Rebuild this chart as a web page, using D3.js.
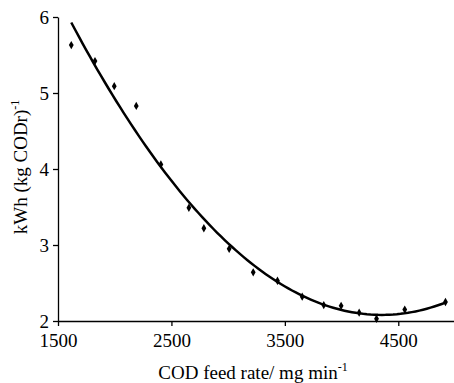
<!DOCTYPE html>
<html><head><meta charset="utf-8"><script src="https://cdn.jsdelivr.net/npm/d3@7"></script></head>
<body style="margin:0">
<svg width="454" height="383"></svg>
<script>
// measured points: COD feed rate (mg/min) vs specific energy kWh (kg CODr)^-1
const feedRate = [1617, 1826, 1996, 2190, 2407, 2654, 2786, 3009, 3221, 3435, 3653, 3843, 3996, 4155, 4308, 4557, 4916];
const energy   = [5.63, 5.42, 5.09, 4.83, 4.06, 3.49, 3.22, 2.95, 2.64, 2.53, 2.32, 2.21, 2.20, 2.11, 2.03, 2.15, 2.25];

const xTicks = [1500, 2500, 3500, 4500];
const yTicks = [2, 3, 4, 5, 6];

const FONT = '"Liberation Serif", "Times New Roman", Tinos, "DejaVu Serif", serif';
const svg = d3.select('svg');

/* ************** SCALES ************** */
const x = d3.scaleLinear().domain([1500, 5000]).range([58, 455]);
const y = d3.scaleLinear().domain([2, 6]).range([321, 17]);

// x axis
const xAxis = svg.append('g')
    .attr('transform', `translate(0, ${y(2)})`)
    .call(d3.axisBottom(x).tickValues(xTicks).tickFormat(d3.format('d'))
        .tickSize(5).tickPadding(7).tickSizeOuter(0));
// y axis
const yAxis = svg.append('g')
    .attr('transform', `translate(${x(1500)}, 0)`)
    .call(d3.axisLeft(y).tickValues(yTicks).tickFormat(d3.format('d'))
        .tickSize(5).tickPadding(4).tickSizeOuter(0));

[xAxis, yAxis].forEach(ax => {
    ax.attr('font-family', null).attr('font-size', null);
    ax.select('.domain').attr('stroke', '#000').attr('stroke-width', 1.3);
    ax.selectAll('.tick line').attr('stroke', '#000').attr('stroke-width', 1.3);
    ax.selectAll('.tick text')
        .attr('fill', '#000')
        .style('font-family', FONT)
        .style('font-size', '19px');
});
xAxis.selectAll('.tick text').attr('dy', '0.72em');
yAxis.selectAll('.tick text').attr('dy', '0.34em');

/* ************** TREND (2nd order least squares) ************** */
function polyFit2(xs, ys) {
    // normal equations for y = a + b t + c t^2, t scaled to thousands
    const t = xs.map(v => v / 1000);
    const s = k => d3.sum(t, v => Math.pow(v, k));
    const sy = k => d3.sum(t, (v, i) => Math.pow(v, k) * ys[i]);
    const M = [[s(0), s(1), s(2)], [s(1), s(2), s(3)], [s(2), s(3), s(4)]];
    const B = [sy(0), sy(1), sy(2)];
    const det = m => m[0][0]*(m[1][1]*m[2][2]-m[1][2]*m[2][1]) - m[0][1]*(m[1][0]*m[2][2]-m[1][2]*m[2][0]) + m[0][2]*(m[1][0]*m[2][1]-m[1][1]*m[2][0]);
    const D = det(M);
    const coef = [0, 1, 2].map(c => det(M.map((row, r) => row.map((v, j) => j === c ? B[r] : v))) / D);
    return v => coef[0] + coef[1] * (v / 1000) + coef[2] * Math.pow(v / 1000, 2);
}
const fit = polyFit2(feedRate, energy);
const xmin = d3.min(feedRate), xmax = d3.max(feedRate);
const trend = d3.range(0, 101).map(i => xmin + (xmax - xmin) * i / 100).map(v => [v, fit(v)]);

svg.append('path')
    .datum(trend)
    .attr('fill', 'none')
    .attr('stroke', '#000')
    .attr('stroke-width', 2.5)
    .attr('d', d3.line().x(d => x(d[0])).y(d => y(d[1])));

/* ************** POINTS ************** */
svg.append('g').selectAll('path.pt')
    .data(feedRate.map((v, i) => ({x: v, y: energy[i]})))
    .enter()
    .append('path')
    .classed('pt', true)
    .attr('transform', d => `translate(${x(d.x)}, ${y(d.y)})`)
    .attr('d', d3.symbol().type(d3.symbolDiamond).size(20))
    .attr('fill', '#000');

/* ************** LABELS ************** */
const xl = svg.append('text')
    .attr('x', 253)
    .attr('y', 379)
    .attr('text-anchor', 'middle')
    .style('font-family', FONT)
    .style('font-size', '19px');
xl.append('tspan').text('COD feed rate/ mg min');
xl.append('tspan').attr('dy', -8).style('font-size', '12px').text('-1');

const yl = svg.append('text')
    .attr('transform', 'translate(27, 167) rotate(-90)')
    .attr('text-anchor', 'middle')
    .style('font-family', FONT)
    .style('font-size', '19px');
yl.append('tspan').text('kWh (kg CODr)');
yl.append('tspan').attr('dy', -8).style('font-size', '12px').text('-1');

// nudge a re-layout once the local serif face is ready
if (document.fonts && document.fonts.load) {
    document.fonts.load('19px "Liberation Serif"').then(() => {
        svg.selectAll('text').style('font-family', FONT);
    });
}
</script>
</body>
</html>
